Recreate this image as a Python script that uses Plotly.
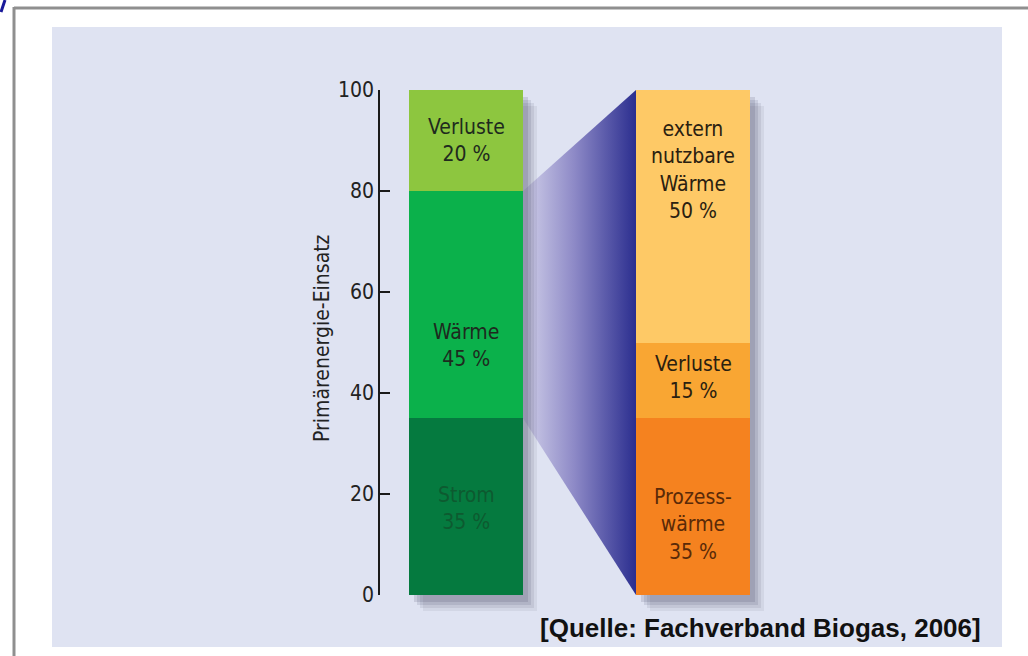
import plotly.graph_objects as go

# --- data -------------------------------------------------------------
primary_names = ["Strom", "Wärme", "Verluste"]
primary_values = [35, 45, 20]

heat_names = ["Prozess-<br>wärme", "Verluste", "extern<br>nutzbare<br>Wärme"]
heat_values = [35, 15, 50]

y_ticks = [0, 20, 40, 60, 80, 100]
axis_title = "Primärenergie-Einsatz"
source_text = "[Quelle: Fachverband Biogas, 2006]"

# --- styling / layout constants --------------------------------------
W, H = 1028, 656
Y0_PX, Y100_PX = 595, 90          # pixel rows of 0 and 100 on the value axis
AXIS_X_PX = 379
LEFT_CX, RIGHT_CX, BAR_W = 466, 693, 114

primary_colors = ["#057a3f", "#0bb14b", "#8dc63f"]
primary_text = ["#0d5a30", "#1e2a1e", "#1e2a1e"]
heat_colors = ["#f5821f", "#f9a633", "#fec966"]
heat_text = ["#5a2a08", "#2a2010", "#2a2010"]

# vertical centres of the segment labels (value-axis units)
primary_label_y = [17.2, 49.5, 90.0]
heat_label_y = [14.0, 43.0, 84.2]

FONT = "'Liberation Sans Narrow', 'DejaVu Sans Condensed', 'Roboto Condensed', 'Open Sans', sans-serif"


def X(px):
    return px / W


def Y(py):
    return 1 - py / H


def v2px(v):
    return Y0_PX - v * (Y0_PX - Y100_PX) / 100.0


def cumulative(vals):
    out, s = [], 0
    for v in vals:
        out.append(s)
        s += v
    return out


fig = go.Figure()

# funnel linking the heat share of the left column to the full right column
p_base = cumulative(primary_values)
heat_lo = p_base[1]
heat_hi = p_base[1] + primary_values[1]
lx = LEFT_CX + BAR_W / 2
rx = RIGHT_CX - BAR_W / 2
fig.add_trace(go.Scatter(
    x=[lx, rx, rx, lx, lx],
    y=[heat_lo, 0, sum(heat_values), heat_hi, heat_lo],
    mode="lines", line=dict(width=0), fill="toself",
    fillgradient=dict(type="horizontal",
                      colorscale=[[0, "#d2d1ea"], [0.45, "#8e8ac7"], [1, "#2b2e8f"]]),
    hoverinfo="skip", showlegend=False,
))

# stacked columns
fig.add_trace(go.Bar(
    x=[LEFT_CX] * len(primary_values), y=primary_values, base=p_base,
    width=BAR_W, marker=dict(color=primary_colors, line=dict(width=0)),
    hoverinfo="skip", showlegend=False,
))
h_base = cumulative(heat_values)
fig.add_trace(go.Bar(
    x=[RIGHT_CX] * len(heat_values), y=heat_values, base=h_base,
    width=BAR_W, marker=dict(color=heat_colors, line=dict(width=0)),
    hoverinfo="skip", showlegend=False,
))

annotations = []
for name, val, yy, col in zip(primary_names, primary_values, primary_label_y, primary_text):
    annotations.append(dict(x=LEFT_CX, y=yy, xref="x", yref="y", showarrow=False,
                            text=f"{name}<br>{val} %", align="center",
                            xanchor="center", yanchor="middle",
                            font=dict(family=FONT, size=21, color=col)))
for name, val, yy, col in zip(heat_names, heat_values, heat_label_y, heat_text):
    annotations.append(dict(x=RIGHT_CX, y=yy, xref="x", yref="y", showarrow=False,
                            text=f"{name}<br>{val} %", align="center",
                            xanchor="center", yanchor="middle",
                            font=dict(family=FONT, size=21, color=col)))

annotations.append(dict(x=X(322), y=Y(338), xref="paper", yref="paper", showarrow=False,
                        xanchor="center", yanchor="middle",
                        text=axis_title, textangle=-90,
                        font=dict(family=FONT, size=21, color="#222222")))
annotations.append(dict(x=X(983), y=Y(628), xref="paper", yref="paper", showarrow=False,
                        xanchor="right", yanchor="middle", text=f"<b>{source_text}</b>",
                        font=dict(family="Liberation Sans, Arial, sans-serif", size=26, color="#111111")))

shapes = [
    # light blue panel
    dict(type="rect", xref="paper", yref="paper", x0=X(52), x1=X(1002), y0=Y(647), y1=Y(27),
         fillcolor="#dfe3f2", line=dict(width=0), layer="below"),
    # outer frame
    dict(type="line", xref="paper", yref="paper", x0=X(14), x1=X(14), y0=Y(7), y1=Y(H + 5),
         line=dict(color="#8f8f8f", width=3), layer="below"),
    dict(type="line", xref="paper", yref="paper", x0=X(14), x1=X(W + 5), y0=Y(8), y1=Y(8),
         line=dict(color="#8f8f8f", width=3), layer="below"),
    dict(type="line", xref="paper", yref="paper", x0=X(5), x1=X(1), y0=Y(0), y1=Y(12),
         line=dict(color="#1a1a9a", width=3), layer="below"),
]


# soft drop shadows to the right of and below each column
def shadow_paths(cx):
    bx0, bx1 = cx - BAR_W / 2, cx + BAR_W / 2
    by0, by1 = v2px(100), v2px(0)
    out = []
    for dx, dy, alpha in [(14, 16, 0.07), (11, 13, 0.09), (8, 10, 0.11), (5, 7, 0.13)]:
        sx0, sx1 = bx0 + dx, bx1 + dx
        sy0, sy1 = by0 + dy, by1 + dy
        pts = [(bx1, sy0), (sx1, sy0), (sx1, sy1), (sx0, sy1), (sx0, by1), (bx1, by1)]
        path = "M " + " L ".join(f"{X(a):.5f},{Y(b):.5f}" for a, b in pts) + " Z"
        out.append(dict(type="path", xref="paper", yref="paper", path=path,
                        fillcolor=f"rgba(40,40,70,{alpha})", line=dict(width=0), layer="above"))
    return out


shapes += shadow_paths(LEFT_CX) + shadow_paths(RIGHT_CX)

fig.update_layout(
    template="none",
    width=W, height=H, autosize=False,
    margin=dict(l=0, r=0, t=0, b=0, pad=0),
    paper_bgcolor="white", plot_bgcolor="rgba(0,0,0,0)",
    barmode="overlay", bargap=0, showlegend=False,
    xaxis=dict(range=[0, W], domain=[0, 1], visible=False, fixedrange=True, automargin=False),
    yaxis=dict(range=[0, 100], domain=[1 - Y0_PX / H, 1 - Y100_PX / H],
               anchor="free", position=X(AXIS_X_PX), side="left", automargin=False,
               tickvals=y_ticks, ticks="inside", ticklen=10, tickwidth=1.5, tickcolor="#1a1a1a",
               showline=True, linecolor="#1a1a1a", linewidth=1.5,
               showgrid=False, zeroline=False, fixedrange=True,
               tickfont=dict(family=FONT, size=21, color="#222222")),
    annotations=annotations, shapes=shapes,
)

fig.write_html("out.html")
